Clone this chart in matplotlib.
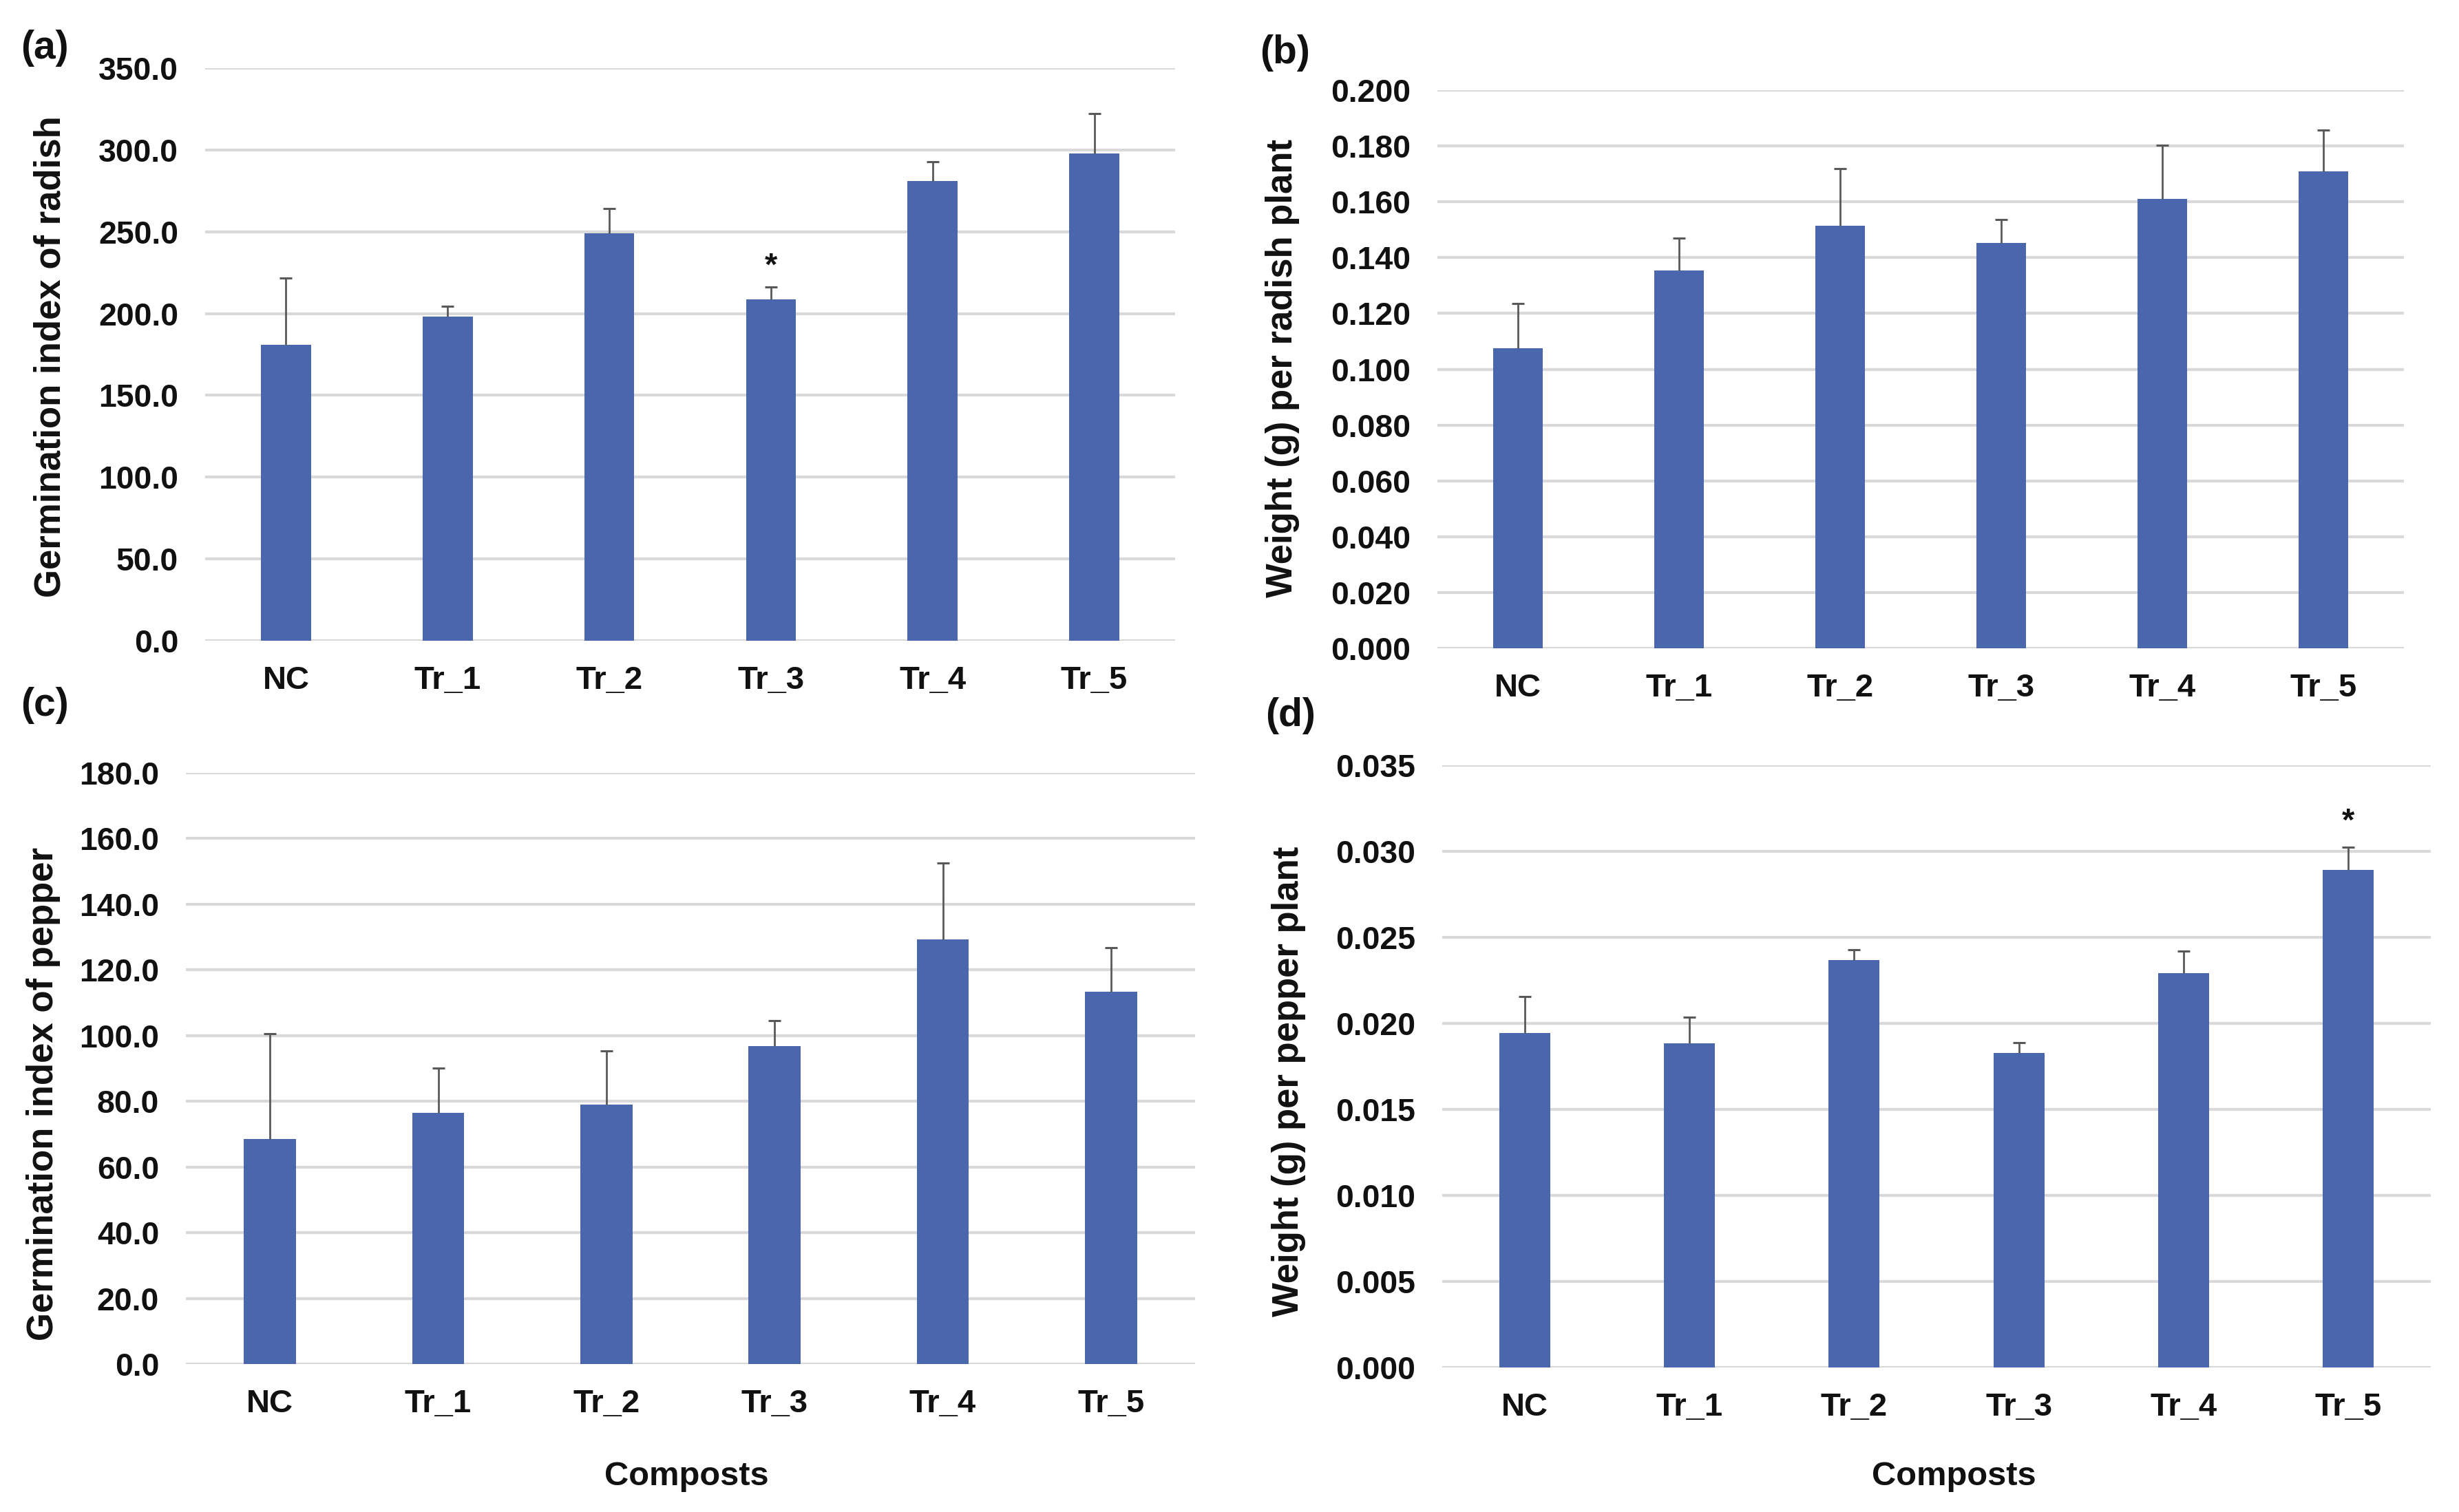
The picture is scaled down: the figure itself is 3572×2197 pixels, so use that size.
#!/usr/bin/env python3

from matplotlib import pyplot as pl

groups = ['NC', 'Tr_1', 'Tr_2', 'Tr_3', 'Tr_4', 'Tr_5']

gi_radish = [181.0, 198.2, 249.0, 208.8, 281.2, 297.7]
gi_radish_err = [40.5, 6.2, 15.0, 7.4, 11.5, 24.5]

wt_radish = [0.1076, 0.1355, 0.1514, 0.1452, 0.1611, 0.1708]
wt_radish_err = [0.0159, 0.0116, 0.0206, 0.0085, 0.0192, 0.0149]

gi_pepper = [68.6, 76.5, 79.0, 96.8, 129.3, 113.4]
gi_pepper_err = [31.9, 13.7, 16.3, 7.7, 23.3, 13.4]

wt_pepper = [0.01946, 0.01885, 0.02369, 0.0183, 0.02292, 0.02893]
wt_pepper_err = [0.0021, 0.0015, 0.0006, 0.0006, 0.0013, 0.0013]

barcolor = '#4a67ad'
errcolor = '#595959'
textcolor = '#111111'
font = ['Liberation Sans', 'DejaVu Sans']

W, H = 3572.0, 2197.0  # figure size in pixels


def box(left, right, top, bottom):
    return [left / W, 1 - bottom / H, (right - left) / W, (bottom - top) / H]


panels = [
    dict(rect=box(298, 1707, 99, 931), vals=gi_radish, err=gi_radish_err,
         ylim=350, step=50, fmt='{:.1f}',
         ylabel='Germination index of radish', lab=(99, 518),
         star=(3, 228.5), tag='(a)', tagpos=(30, 70), xlabel=None),
    dict(rect=box(2088, 3492, 131, 942), vals=wt_radish, err=wt_radish_err,
         ylim=0.2, step=0.02, fmt='{:.3f}',
         ylabel='Weight (g) per radish plant', lab=(1888, 535),
         star=None, tag='(b)', tagpos=(1830, 77), xlabel=None),
    dict(rect=box(270, 1736, 1123, 1982), vals=gi_pepper, err=gi_pepper_err,
         ylim=180, step=20, fmt='{:.1f}',
         ylabel='Germination index of pepper', lab=(88, 1590),
         star=None, tag='(c)', tagpos=(30, 1025), xlabel=(997, 2123)),
    dict(rect=box(2095, 3531, 1112, 1987), vals=wt_pepper, err=wt_pepper_err,
         ylim=0.035, step=0.005, fmt='{:.3f}',
         ylabel='Weight (g) per pepper plant', lab=(1897, 1571),
         star=(5, 0.03168), tag='(d)', tagpos=(1838, 1040), xlabel=(2838, 2123)),
]

fig = pl.figure(figsize=(W / 200, H / 200), dpi=200)

for p in panels:
    ax = fig.add_axes(p['rect'])
    x = list(range(len(groups)))
    tops = [v + e for v, e in zip(p['vals'], p['err'])]
    ax.bar(x, p['vals'], width=0.31, color=barcolor, zorder=2)
    ax.vlines(x, p['vals'], tops, color=errcolor, linewidth=1.0, zorder=3)
    ax.plot(x, tops, ls='none', marker='_', ms=6.5, mew=1.1,
            color=errcolor, zorder=3)

    n = int(round(p['ylim'] / p['step']))
    ticks = [i * p['step'] for i in range(n + 1)]
    ax.set_yticks(ticks)
    ax.set_yticklabels([p['fmt'].format(t) for t in ticks])
    ax.set_ylim(0, p['ylim'])
    ax.set_xlim(-0.5, len(groups) - 0.5)
    ax.set_xticks(x)
    ax.set_xticklabels(groups)

    ax.yaxis.grid(True, color='#d9d9d9', linewidth=1.5, zorder=0)
    ax.set_axisbelow(True)
    for s in ax.spines.values():
        s.set_visible(False)
    ax.tick_params(length=0)
    ax.tick_params(axis='y', pad=14)
    ax.tick_params(axis='x', pad=13)
    for lab in ax.get_yticklabels():
        lab.set_family(font)
        lab.set_fontweight('bold')
        lab.set_fontsize(16.7)
        lab.set_color(textcolor)
    for lab in ax.get_xticklabels():
        lab.set_family(font)
        lab.set_fontweight('bold')
        lab.set_fontsize(17)
        lab.set_color(textcolor)

    lx, ly = p['lab']
    fig.text(lx / W, 1 - ly / H, p['ylabel'], rotation=90, ha='right',
             va='center', family=font, fontweight='bold', fontsize=19,
             color=textcolor)

    if p['xlabel'] is not None:
        cx, cy = p['xlabel']
        fig.text(cx / W, 1 - cy / H, 'Composts', ha='center', va='top',
                 family=font, fontweight='bold', fontsize=17.6,
                 color=textcolor)

    if p['star'] is not None:
        i, yv = p['star']
        ax.text(i, yv, '*', ha='center', va='center', fontsize=17,
                fontweight='bold', family=font, color=textcolor)

    tx, ty = p['tagpos']
    fig.text(tx / W, 1 - ty / H, p['tag'], ha='left', va='center',
             family=font, fontweight='bold', fontsize=20.5, color=textcolor)

fig.savefig('out.png', dpi=200)
